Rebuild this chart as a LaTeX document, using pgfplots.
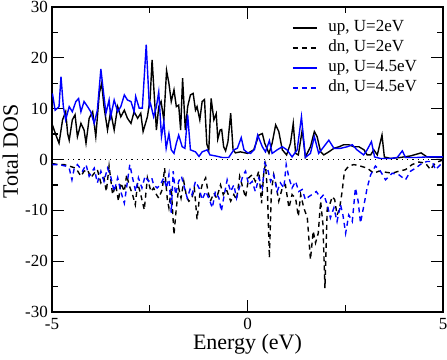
\documentclass[border=0pt]{standalone}
\usepackage{fontspec}
\setmainfont{Liberation Serif}
\usepackage{pgfplots}
\pgfplotsset{compat=1.18}

\begin{document}
\begin{tikzpicture}
\begin{axis}[
    width=391pt, height=305pt, scale only axis,
    xmin=-5, xmax=5, ymin=-30, ymax=30,
    xtick={-5,0,5}, ytick={-30,-20,-10,0,10,20,30},
    minor x tick num=1, minor y tick num=1,
    tick align=inside, tick pos=both,
    major tick length=12pt, minor tick length=6.5pt,
    axis line style={line width=1.2pt},
    every tick/.style={black, line width=1.2pt},
    /pgf/number format/assume math mode=true,
    ticklabel style={font=\fontsize{17}{20}\selectfont, inner sep=0pt},
    xticklabel style={yshift=-6pt},
    yticklabel style={xshift=-4pt},
    xlabel={Energy (eV)}, ylabel={Total DOS},
    label style={font=\fontsize{22}{26}\selectfont},
    xlabel style={at={(rel axis cs:0.5,0)}, anchor=base, yshift=-38pt},
    ylabel style={at={(rel axis cs:-0.087,0.526)}, anchor=base},
    legend style={at={(0.614,0.958)}, anchor=north west, draw=none, fill=none,
      inner sep=0pt, outer sep=0pt, row sep=4pt,
      font=\fontsize{17}{20}\selectfont,
      nodes={inner sep=0pt, text height=12pt, text depth=4pt}},
    legend cell align=left,
    legend image code/.code={
      \draw[#1] (0pt,0pt) -- (24pt,0pt);
      \path (35pt,0pt);
    },
  ]
  % up, U=2eV
  \addplot[black, line width=1.4pt] coordinates {
    (-4.99,6.8) (-4.90,4.8) (-4.82,3.2) (-4.73,7.8) (-4.65,9.4) (-4.60,5.1) (-4.56,3.8) (-4.48,7.8)
    (-4.41,8.8) (-4.35,4.5) (-4.26,7.1) (-4.18,5.8) (-4.13,3.2) (-4.05,8.1) (-3.96,9.4) (-3.88,4.5)
    (-3.79,13.0) (-3.73,15.0) (-3.67,10.4) (-3.58,5.8) (-3.50,9.4) (-3.41,5.8) (-3.32,10.4) (-3.24,8.4)
    (-3.15,9.7) (-3.07,8.1) (-2.98,7.1) (-2.90,9.4) (-2.81,8.1) (-2.73,9.1) (-2.67,5.5) (-2.56,8.4)
    (-2.49,12.0) (-2.44,19.6) (-2.33,5.8) (-2.27,10.4) (-2.21,11.4) (-2.14,7.8) (-2.07,17.5) (-2.01,15.0)
    (-1.95,11.4) (-1.88,13.7) (-1.82,10.4) (-1.76,10.7) (-1.71,5.8) (-1.66,16.0) (-1.59,5.8) (-1.53,10.4)
    (-1.46,12.7) (-1.39,13.0) (-1.33,9.7) (-1.29,10.4) (-1.22,7.8) (-1.16,11.4) (-1.10,11.8) (-1.04,3.0)
    (-0.99,1.9) (-0.93,12.0) (-0.86,7.8) (-0.80,9.0) (-0.76,4.0) (-0.70,5.8) (-0.66,5.9) (-0.61,2.5)
    (-0.56,1.7) (-0.50,3.5) (-0.43,9.1) (-0.37,2.0) (-0.31,1.3) (-0.18,1.5) (0.00,1.2) (0.16,1.9)
    (0.29,4.8) (0.38,5.1) (0.44,3.2) (0.55,1.2) (0.63,3.2) (0.72,6.8) (0.80,5.5) (0.89,1.9)
    (1.00,0.9) (1.10,3.2) (1.17,7.1) (1.23,1.2) (1.30,0.9) (1.40,5.8) (1.48,0.5) (1.61,2.5)
    (1.71,5.5) (1.78,4.5) (1.87,1.5) (1.95,0.9) (2.08,1.5) (2.21,2.2) (2.34,2.5) (2.46,2.9)
    (2.59,2.9) (2.72,2.5) (2.85,2.5) (2.98,1.9) (3.06,0.9) (3.15,0.9) (3.23,1.9) (3.32,0.9)
    (3.44,4.8) (3.50,0.5) (3.66,0.2) (3.91,0.4) (4.17,0.7) (4.44,1.3) (4.59,0.5) (4.94,0.4) (5.00,0.4)
  };
  \addlegendentry{up, U=2eV}
  % dn, U=2eV
  \addplot[black, line width=1.4pt, dash pattern=on 5pt off 4pt] coordinates {
    (-4.99,-0.8) (-4.85,-1.0) (-4.69,-1.0) (-4.56,-1.3) (-4.39,-1.7) (-4.26,-3.3) (-4.18,-2.3) (-4.09,-2.0)
    (-4.01,-3.6) (-3.92,-2.7) (-3.84,-2.0) (-3.75,-4.6) (-3.67,-3.6) (-3.61,-6.3) (-3.54,-1.3) (-3.45,-6.9)
    (-3.37,-5.0) (-3.30,-8.2) (-3.24,-4.6) (-3.15,-6.3) (-3.09,-3.0) (-3.03,-5.0) (-2.94,-6.9) (-2.87,-8.9)
    (-2.81,-4.6) (-2.73,-6.9) (-2.64,-9.9) (-2.56,-3.6) (-2.47,-6.3) (-2.40,-5.6) (-2.33,-6.9) (-2.27,-7.6)
    (-2.18,-5.9) (-2.12,-1.7) (-2.05,-7.9) (-2.01,-9.5) (-1.95,-5.6) (-1.88,-14.8) (-1.82,-9.5) (-1.76,-5.6)
    (-1.70,-7.6) (-1.63,-4.3) (-1.56,-7.3) (-1.50,-8.2) (-1.42,-7.6) (-1.36,-5.6) (-1.29,-11.8) (-1.22,-6.9)
    (-1.16,-5.0) (-1.07,-3.6) (-1.01,-6.3) (-0.95,-8.2) (-0.86,-6.6) (-0.79,-7.6) (-0.69,-5.0) (-0.62,-6.9)
    (-0.54,-5.9) (-0.43,-8.2) (-0.35,-6.9) (-0.28,-7.9) (-0.20,-3.3) (-0.14,-5.0) (-0.05,-7.5) (0.03,-3.6)
    (0.12,-3.0) (0.20,-4.3) (0.29,-2.3) (0.36,-8.6) (0.42,-2.3) (0.46,-1.0) (0.51,-6.3) (0.56,-19.4)
    (0.61,-6.3) (0.67,-3.0) (0.73,-5.0) (0.80,-8.2) (0.89,-5.6) (0.97,-5.0) (1.06,-9.5) (1.14,-6.9)
    (1.23,-7.6) (1.30,-11.2) (1.36,-6.9) (1.44,-9.5) (1.53,-11.5) (1.61,-19.7) (1.68,-14.1) (1.74,-16.4)
    (1.81,-14.5) (1.87,-8.2) (1.93,-12.8) (1.98,-25.3) (2.04,-9.5) (2.10,-8.9) (2.17,-7.3) (2.23,-7.9)
    (2.29,-10.9) (2.35,-9.9) (2.42,-6.3) (2.48,-2.3) (2.59,-1.3) (2.72,-1.0) (2.89,-1.3) (3.06,-1.7)
    (3.23,-2.7) (3.36,-2.3) (3.53,-2.5) (3.70,-2.7) (3.87,-2.3) (4.04,-2.0) (4.21,-1.0) (4.38,-0.5)
    (4.55,-0.7) (4.68,-2.0) (4.77,-1.0) (4.89,-0.4) (5.00,-0.1)
  };
  \addlegendentry{dn, U=2eV}
  % up, U=4.5eV
  \addplot[blue, line width=1.4pt] coordinates {
    (-4.99,13.0) (-4.92,9.7) (-4.86,10.1) (-4.82,10.4) (-4.77,16.3) (-4.71,10.4) (-4.65,7.8) (-4.56,10.4)
    (-4.48,9.4) (-4.39,11.4) (-4.32,12.0) (-4.26,9.4) (-4.18,11.4) (-4.09,10.4) (-4.01,9.4) (-3.92,7.1)
    (-3.84,9.7) (-3.75,17.8) (-3.69,13.7) (-3.62,9.1) (-3.54,11.7) (-3.50,8.4) (-3.41,11.7) (-3.32,9.4)
    (-3.24,10.4) (-3.15,12.7) (-3.07,11.7) (-2.98,11.4) (-2.90,9.4) (-2.86,12.4) (-2.77,10.1) (-2.69,10.1)
    (-2.59,22.6) (-2.51,10.4) (-2.48,11.0) (-2.40,8.4) (-2.33,10.4) (-2.27,13.3) (-2.20,4.5) (-2.14,7.4)
    (-2.08,2.2) (-2.01,5.1) (-1.95,1.9) (-1.88,1.2) (-1.82,3.2) (-1.76,4.8) (-1.67,2.5) (-1.60,2.2)
    (-1.53,8.8) (-1.46,1.9) (-1.33,1.5) (-1.24,0.6) (-1.16,1.5) (-1.03,1.9) (-0.96,0.9) (-0.82,0.7)
    (-0.65,0.4) (-0.48,0.4) (-0.35,1.9) (-0.26,2.2) (-0.16,4.3) (-0.09,1.9) (-0.01,1.4) (0.08,1.2)
    (0.18,2.0) (0.26,4.8) (0.38,2.5) (0.46,1.5) (0.56,3.7) (0.63,1.2) (0.76,1.9) (0.89,2.5)
    (1.01,1.9) (1.14,0.5) (1.27,1.9) (1.38,8.4) (1.48,0.4) (1.61,1.2) (1.71,4.5) (1.82,1.2)
    (1.95,2.5) (2.08,3.8) (2.21,2.2) (2.38,2.2) (2.55,2.5) (2.68,2.9) (2.80,1.9) (2.97,0.9)
    (3.06,1.9) (3.17,3.5) (3.25,0.5) (3.40,0.2) (3.66,0.2) (3.83,0.4) (3.96,1.7) (4.04,0.4)
    (4.34,0.4) (4.59,0.5) (4.94,0.5) (5.00,0.5)
  };
  \addlegendentry{up, U=4.5eV}
  % dn, U=4.5eV
  \addplot[blue, line width=1.4pt, dash pattern=on 5pt off 4pt] coordinates {
    (-4.99,-1.0) (-4.82,-1.0) (-4.65,-1.3) (-4.56,-1.7) (-4.49,-4.0) (-4.43,-1.7) (-4.35,-1.0) (-4.22,-2.3)
    (-4.13,-1.0) (-4.05,-3.3) (-3.92,-1.7) (-3.84,-4.6) (-3.75,-2.3) (-3.67,-4.3) (-3.58,-1.7) (-3.50,-3.3)
    (-3.41,-6.3) (-3.32,-3.6) (-3.24,-6.3) (-3.15,-8.6) (-3.07,-4.3) (-3.01,-1.0) (-2.94,-3.6) (-2.86,-6.3)
    (-2.79,-3.6) (-2.70,-5.6) (-2.62,-3.3) (-2.53,-4.3) (-2.45,-3.6) (-2.40,-5.0) (-2.31,-5.6) (-2.23,-5.0)
    (-2.14,-3.6) (-2.07,-5.6) (-2.01,-3.0) (-1.95,-10.5) (-1.90,-2.3) (-1.84,-6.9) (-1.76,-4.3) (-1.69,-3.3)
    (-1.63,-5.0) (-1.54,-7.6) (-1.47,-5.9) (-1.42,-6.9) (-1.33,-4.3) (-1.24,-5.6) (-1.16,-7.9) (-1.07,-6.3)
    (-0.99,-7.6) (-0.90,-9.5) (-0.82,-6.3) (-0.73,-7.6) (-0.67,-10.2) (-0.61,-7.6) (-0.52,-4.0) (-0.43,-6.3)
    (-0.35,-5.0) (-0.28,-7.6) (-0.20,-5.3) (-0.11,-3.0) (-0.05,-2.3) (0.03,-5.0) (0.12,-4.3) (0.20,-6.3)
    (0.29,-3.6) (0.38,-5.6) (0.44,-0.7) (0.51,-1.7) (0.59,-4.3) (0.67,-3.0) (0.76,-6.3) (0.84,-4.6)
    (0.93,-5.6) (0.99,-1.0) (1.06,-3.6) (1.14,-5.6) (1.23,-4.3) (1.31,-6.3) (1.40,-5.9) (1.48,-7.9)
    (1.57,-7.3) (1.65,-6.9) (1.76,-6.3) (1.87,-7.6) (1.95,-6.9) (2.04,-8.9) (2.12,-11.5) (2.21,-9.5)
    (2.29,-12.2) (2.38,-8.9) (2.44,-10.9) (2.51,-14.5) (2.59,-10.9) (2.68,-12.2) (2.76,-5.6) (2.83,-8.2)
    (2.89,-12.5) (2.98,-8.9) (3.06,-5.6) (3.15,-3.0) (3.27,-1.3) (3.40,-2.3) (3.53,-4.0) (3.70,-2.7)
    (3.87,-3.0) (4.04,-4.0) (4.17,-2.3) (4.30,-1.7) (4.47,-0.7) (4.59,-0.4) (4.72,-0.4) (4.81,-2.0)
    (4.94,-1.0) (5.00,-0.3)
  };
  \addlegendentry{dn, U=4.5eV}
  % zero line
  \addplot[black, line width=1.2pt, dash pattern=on 1.2pt off 4.1pt, forget plot] coordinates {(-5,0) (5,0)};
\end{axis}
\pgfresetboundingbox
\path[use as bounding box] ([xshift=-52pt,yshift=-48pt]current axis.south west)
  rectangle ([xshift=4pt,yshift=7pt]current axis.north east);
\end{tikzpicture}
\end{document}
